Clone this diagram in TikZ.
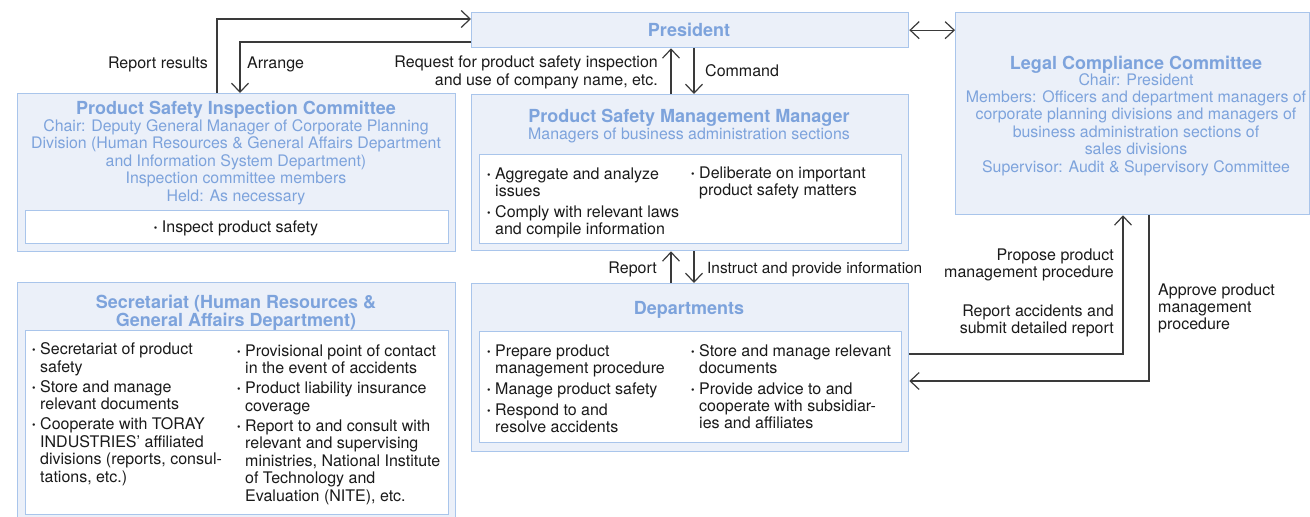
\documentclass[tikz,border=0pt]{standalone}
\usepackage{fontspec}
\setmainfont{TeX Gyre Heros}
\usetikzlibrary{arrows.meta,calc}
\definecolor{boxfill}{HTML}{EBF0F9}
\definecolor{boxline}{HTML}{A9C5EB}
\definecolor{ttlcol}{HTML}{7DA3DC}
\definecolor{conncol}{HTML}{3A3A3A}
\definecolor{txtcol}{HTML}{1A1A1A}
\newcommand{\bu}{\makebox[8pt][l]{\raisebox{1pt}{\fontsize{10}{10}\selectfont\textbullet}}}
\newcommand{\ci}{\hspace*{8pt}}
\begin{document}
\begin{tikzpicture}[x=1pt,y=-1pt,
  outerbox/.style={draw=boxline, fill=boxfill, line width=1.3pt, inner sep=0pt, anchor=north west},
  innerbox/.style={draw=boxline, fill=white, line width=1.3pt, inner sep=0pt, anchor=north west},
  ttltext/.style={font=\fontsize{18}{18}\selectfont\bfseries, text=ttlcol, inner sep=0pt, anchor=base},
  subtext/.style={font=\fontsize{15.9}{17.4}\selectfont, text=ttlcol, inner sep=0pt, align=center, anchor=base},
  bodytext/.style={font=\fontsize{16}{17}\selectfont, text=txtcol, inner sep=0pt, align=left, anchor=base west},
  lbltext/.style={font=\fontsize{16}{17.5}\selectfont, text=txtcol, inner sep=0pt},
  conn/.style={draw=conncol, line width=1.2pt},
  arr/.style={conn, -{Straight Barb[length=9pt,width=17pt]}},
  darr/.style={conn, {Straight Barb[length=9pt,width=17pt]}-{Straight Barb[length=9pt,width=17pt]}}]
\useasboundingbox (0,0) rectangle (1310,517);

% ---------- boxes ----------
\node[outerbox, minimum width=437pt, minimum height=35pt] (pres) at (471,12) {};
\node[outerbox, minimum width=354pt, minimum height=202pt] (lcc) at (955,12) {};
\node[outerbox, minimum width=438pt, minimum height=158pt] (psic) at (17,93) {};
\node[innerbox, minimum width=423pt, minimum height=33pt] (psicin) at (25,210) {};
\node[outerbox, minimum width=437pt, minimum height=156pt] (psmm) at (471,94) {};
\node[innerbox, minimum width=422pt, minimum height=89pt] (psmmin) at (479,154) {};
\node[outerbox, minimum width=437pt, minimum height=168pt] (dept) at (471,283) {};
\node[innerbox, minimum width=422pt, minimum height=111pt] (deptin) at (479,331) {};
\node[outerbox, minimum width=438pt, minimum height=234.5pt] (sec) at (17,282) {};
\node[innerbox, minimum width=423pt, minimum height=183.5pt] (secin) at (25,330) {};

% ---------- President ----------
\node[ttltext] (prest) at (689,36) {President};

% ---------- Legal Compliance Committee ----------
\node[ttltext] (lcct) at (1136,69) {Legal Compliance Committee};
\node[subtext] (lccs) at (1136,172) {Chair: President\\Members: Officers and department managers of\\corporate planning divisions and managers of\\business administration sections of\\sales divisions\\Supervisor: Audit \& Supervisory Committee};

% ---------- Product Safety Inspection Committee ----------
\node[ttltext] (psict) at (236,114) {Product Safety Inspection Committee};
\node[subtext] (psics) at (236,201) {Chair: Deputy General Manager of Corporate Planning\\Division (Human Resources \& General Affairs Department\\and Information System Department)\\Inspection committee members\\Held: As necessary};
\node[lbltext, anchor=base] (psicb) at (236,232) {\bu Inspect product safety};

% ---------- Product Safety Management Manager ----------
\node[ttltext] (psmmt) at (689,122) {Product Safety Management Manager};
\node[subtext] (psmms) at (689,139) {Managers of business administration sections};
\node[bodytext] (psmml) at (487,234) {\bu Aggregate and analyze\\\ci issues\\[4pt]\bu Comply with relevant laws\\\ci and compile information};
\node[bodytext] (psmmr) at (691,195) {\bu Deliberate on important\\\ci product safety matters};

% ---------- Departments ----------
\node[ttltext] (deptt) at (689,314) {Departments};
\node[bodytext] (deptl) at (487,432) {\bu Prepare product\\\ci management procedure\\[4pt]\bu Manage product safety\\[4pt]\bu Respond to and\\\ci resolve accidents};
\node[bodytext] (deptr) at (691,428) {\bu Store and manage relevant\\\ci documents\\[4pt]\bu Provide advice to and\\\ci cooperate with subsidiar-\\\ci ies and affiliates};

% ---------- Secretariat ----------
\node[ttltext, align=center, font=\fontsize{18}{18}\selectfont\bfseries] (sect) at (236,326) {Secretariat (Human Resources \&\\General Affairs Department)};
\node[bodytext, font=\fontsize{16}{17.5}\selectfont] (secl) at (32,482) {\bu Secretariat of product\\\ci safety\\[2.5pt]\bu Store and manage\\\ci relevant documents\\[2.5pt]\bu Cooperate with TORAY\\\ci INDUSTRIES' affiliated\\\ci divisions (reports, consul-\\\ci tations, etc.)};
\node[bodytext, font=\fontsize{16}{17.5}\selectfont] (secr) at (237,501) {\bu Provisional point of contact\\\ci in the event of accidents\\[2.5pt]\bu Product liability insurance\\\ci coverage\\[2.5pt]\bu Report to and consult with\\\ci relevant and supervising\\\ci ministries, National Institute\\\ci of Technology and\\\ci Evaluation (NITE), etc.};

% ---------- connector bend points ----------
\coordinate (rrtop) at (217,19);
\coordinate (artop) at (240,42);
\coordinate (upx) at (671,0);
\coordinate (dnx) at (694,0);
\coordinate (pp) at (1123,354);
\coordinate (ap) at (1149,381);

% ---------- connectors ----------
\draw[arr] (psic.north -| rrtop) -- (rrtop) -- (pres.west |- rrtop);
\draw[arr] (pres.west |- artop) -- (artop) -- (psic.north -| artop);
\draw[arr] (psmm.north -| upx) -- (pres.south -| upx);
\draw[arr] (pres.south -| dnx) -- (psmm.north -| dnx);
\draw[darr] (pres.east) -- (lcc.west |- pres.east);
\draw[arr] (dept.north -| upx) -- (psmm.south -| upx);
\draw[arr] (psmm.south -| dnx) -- (dept.north -| dnx);
\draw[arr] (dept.east |- pp) -- (pp) -- (lcc.south -| pp);
\draw[arr] (lcc.south -| ap) -- (ap) -- (dept.east |- ap);

% ---------- connector labels ----------
\node[lbltext, anchor=base east] (lrr) at (208,68) {Report results};
\node[lbltext, anchor=base west] (lar) at (247,68) {Arrange};
\node[lbltext, anchor=base east, align=right] (lreq) at (658,85) {Request for product safety inspection\\and use of company name, etc.};
\node[lbltext, anchor=base west] (lcmd) at (705,76) {Command};
\node[lbltext, anchor=base east] (lrep) at (657,273) {Report};
\node[lbltext, anchor=base west, font=\fontsize{15.4}{17}\selectfont] (lins) at (707,273) {Instruct and provide information};
\node[lbltext, anchor=base east, align=right, font=\fontsize{16}{16.5}\selectfont] (lprop) at (1114,277) {Propose product\\management procedure};
\node[lbltext, anchor=base east, align=right, font=\fontsize{16}{17}\selectfont] (lracc) at (1114,333) {Report accidents and\\submit detailed report};
\node[lbltext, anchor=base west, align=left, font=\fontsize{16}{17}\selectfont] (lappr) at (1158,329) {Approve product\\management\\procedure};
\end{tikzpicture}
\end{document}
